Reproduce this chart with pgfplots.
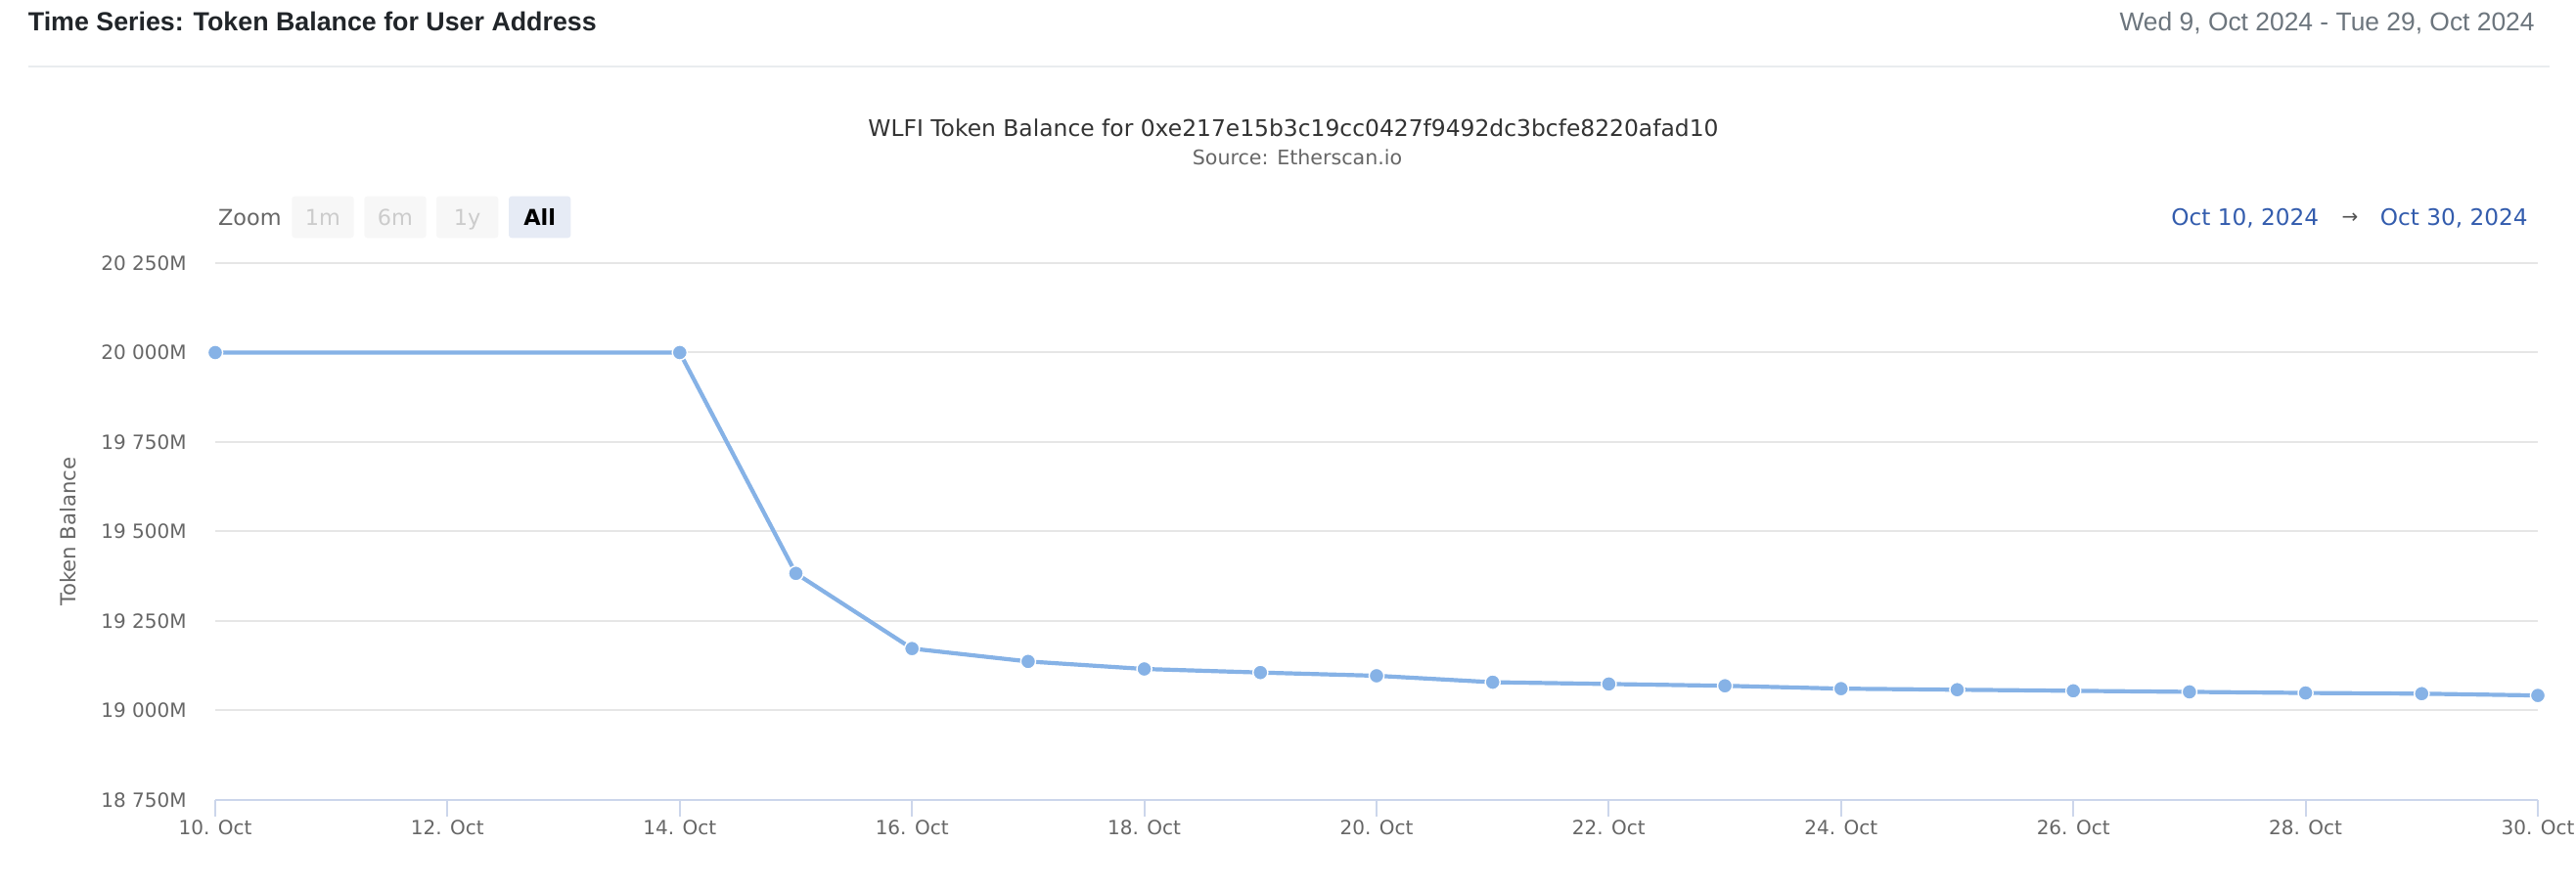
\documentclass[border=0pt]{standalone}
\usepackage{fontspec}
\usepackage{pgfplots}
\pgfplotsset{compat=1.18}
\newfontfamily\dejavu{DejaVu Sans}
\newfontfamily\libsans{Liberation Sans}

\definecolor{lineblue}{RGB}{134,178,230}
\definecolor{gridgray}{RGB}{230,230,230}
\definecolor{axisblue}{RGB}{204,214,235}
\definecolor{ticktext}{RGB}{102,102,102}
\definecolor{titletext}{RGB}{51,51,51}
\definecolor{headtext}{RGB}{33,37,41}
\definecolor{datetext}{RGB}{108,117,125}
\definecolor{rangeblue}{RGB}{51,92,173}
\definecolor{sepgray}{RGB}{233,236,239}
\definecolor{btnbg}{RGB}{247,247,247}
\definecolor{btnsel}{RGB}{230,235,245}
\definecolor{btntext}{RGB}{204,204,204}

\begin{document}
\begin{tikzpicture}
\path[use as bounding box] (0,0) rectangle (1316.5pt,454pt);

% page furniture, in reference pixels from the top left
\begin{scope}[shift={(0pt,454pt)}, x=0.5pt, y=-0.5pt]
  \node[anchor=base west, inner sep=0pt, text=headtext, font=\libsans\bfseries\fontsize{13.4}{16}\selectfont]
    at (28.5,32) {Time Series: Token Balance for User Address};
  \node[anchor=base east, inner sep=0pt, text=datetext, font=\libsans\fontsize{13.2}{16}\selectfont]
    at (2591,32) {Wed 9, Oct 2024 - Tue 29, Oct 2024};
  \draw[sepgray, line width=1pt] (28.5,68) -- (2606,68);

  \node[anchor=base, inner sep=0pt, text=titletext, font=\dejavu\fontsize{11.7}{14}\selectfont]
    at (1322,140) {WLFI Token Balance for 0xe217e15b3c19cc0427f9492dc3bcfe8220afad10};
  \node[anchor=base, inner sep=0pt, text=ticktext, font=\dejavu\fontsize{10.3}{12}\selectfont]
    at (1326,169) {Source: Etherscan.io};

  % zoom buttons
  \node[anchor=base west, inner sep=0pt, text=ticktext, font=\dejavu\fontsize{11.2}{13}\selectfont]
    at (222.7,230.7) {Zoom};
  \foreach \xa/\lab in {298.3/1m, 372.3/6m, 446/1y} {
    \fill[btnbg, rounded corners=1.5pt] (\xa,200.7) rectangle ++(63.4,42.6);
    \node[anchor=base, inner sep=0pt, text=btntext, font=\dejavu\fontsize{11.2}{13}\selectfont]
      at (\xa+31.7,230.7) {\lab};
  }
  \fill[btnsel, rounded corners=1.5pt] (520,200.7) rectangle ++(63.4,42.6);
  \node[anchor=base, inner sep=0pt, text=black, font=\dejavu\bfseries\fontsize{11.2}{13}\selectfont]
    at (551.7,230.7) {All};

  % range display
  \node[anchor=base west, inner sep=0pt, text=rangeblue, font=\dejavu\fontsize{11.6}{14}\selectfont]
    at (2219,231) {Oct 10, 2024};
  \node[anchor=base, inner sep=0pt, text=ticktext!80!black, font=\dejavu\fontsize{10}{12}\selectfont]
    at (2402,229) {→};
  \node[anchor=base east, inner sep=0pt, text=rangeblue, font=\dejavu\fontsize{11.6}{14}\selectfont]
    at (2584,231) {Oct 30, 2024};
\end{scope}

\begin{axis}[
  at={(110pt,45pt)}, anchor=south west,
  scale only axis, width=1187pt, height=274.5pt,
  xmin=10, xmax=30, ymin=18750, ymax=20250,
  scaled y ticks=false,
  axis x line*=bottom, axis y line*=left,
  x axis line style={draw=axisblue, line width=1pt},
  y axis line style={draw=none},
  xtick={10,12,...,30},
  xticklabels={10. Oct,12. Oct,14. Oct,16. Oct,18. Oct,20. Oct,22. Oct,24. Oct,26. Oct,28. Oct,30. Oct},
  ytick={18750,19000,...,20250},
  yticklabels={18 750M,19 000M,19 250M,19 500M,19 750M,20 000M,20 250M},
  xtick align=outside,
  major tick length=8.5pt,
  xtick style={draw=axisblue, line width=1pt},
  ytick style={draw=none},
  ymajorgrids,
  major grid style={draw=gridgray, line width=1pt},
  tick label style={font=\dejavu\fontsize{10}{12}\selectfont, text=ticktext},
  xticklabel style={anchor=base, inner sep=0pt, yshift=-9.5pt},
  yticklabel style={anchor=east, inner sep=0pt, xshift=-14.5pt},
  ylabel={Token Balance},
  ylabel style={at={(axis description cs:-0.0632,0.5)}, anchor=center, rotate=0,
    font=\dejavu\fontsize{10.6}{13}\selectfont, text=ticktext},
  clip=false,
]
\addplot[lineblue, line width=2.1pt, mark=*, mark size=3.8pt,
  mark options={fill=lineblue, draw=white, line width=0.7pt}]
coordinates {
  (10,20000) (14,20000) (15,19383) (16,19173) (17,19137) (18,19116)
  (19,19106) (20,19097) (21,19079) (22,19074) (23,19069) (24,19061)
  (25,19058) (26,19055) (27,19052) (28,19049) (29,19047) (30,19042)
};
\end{axis}
\end{tikzpicture}
\end{document}
